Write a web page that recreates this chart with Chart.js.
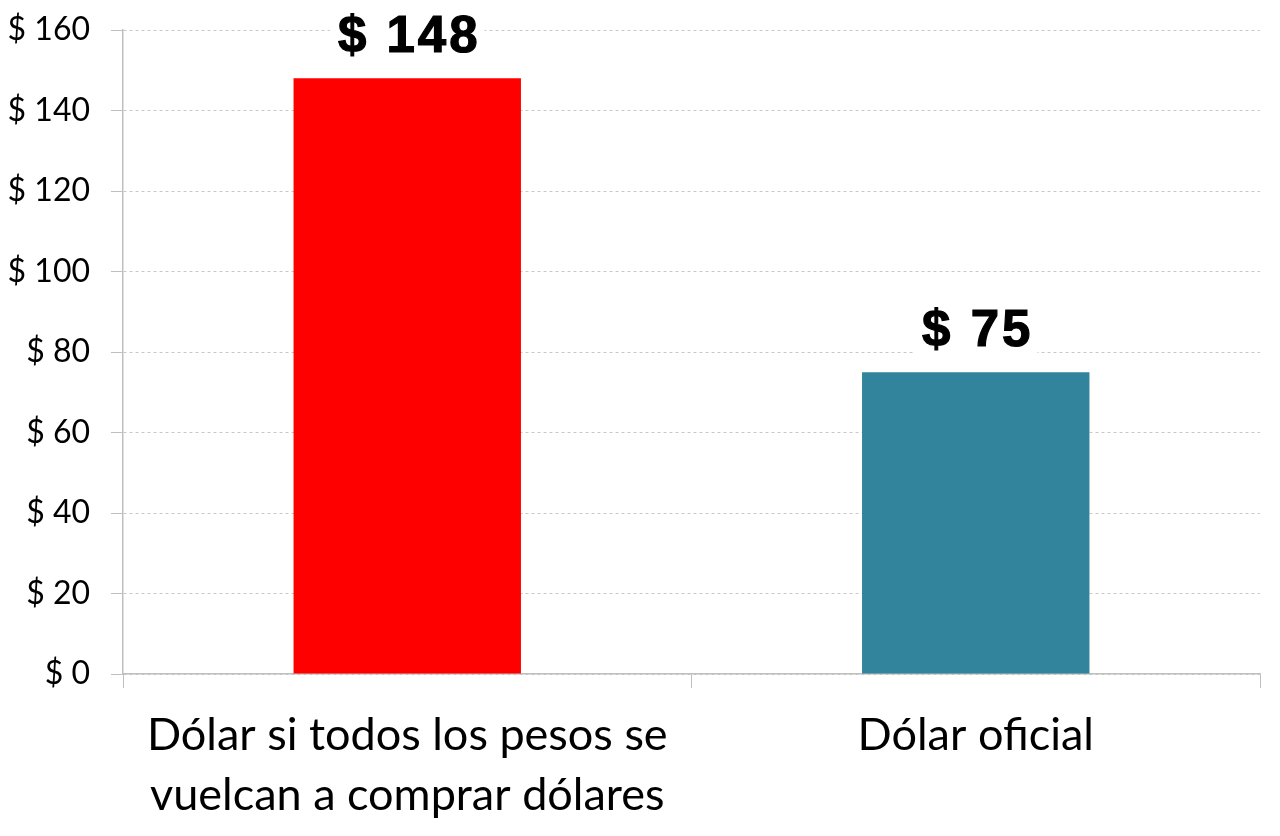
<!DOCTYPE html>
<html>
<head>
<meta charset="utf-8">
<script src="https://cdn.jsdelivr.net/npm/chart.js@4/dist/chart.umd.min.js"></script>
<style>
  html, body { margin: 0; padding: 0; background: #fff; }
  #wrap { width: 1280px; height: 836px; position: relative; }
</style>
</head>
<body>
<div id="wrap"><canvas id="chart"></canvas></div>
<script>
// data
const categories = [
  ['Dólar si todos los pesos se', 'vuelcan a comprar dólares'],
  'Dólar oficial'
];
const dollarValues = [148, 75];
const barColors = ['#ff0000', '#31849b'];
const yTicks = [0, 20, 40, 60, 80, 100, 120, 140, 160];

// "$ 148" style labels above each bar, on a white patch that breaks the grid line
const barLabels = {
  id: 'barLabels',
  afterDatasetsDraw(chart) {
    const ctx = chart.ctx;
    const meta = chart.getDatasetMeta(0);
    ctx.save();
    ctx.font = 'bold 51px "Liberation Sans", Arial, sans-serif';
    ctx.letterSpacing = '3px';
    ctx.textAlign = 'center';
    ctx.textBaseline = 'middle';
    meta.data.forEach((bar, i) => {
      const text = '$ ' + dollarValues[i];
      const w = ctx.measureText(text).width;
      const cy = bar.y - 40;
      ctx.fillStyle = '#fff';
      ctx.fillRect(bar.x - w / 2 - 6, cy - 26, w + 12, 50);
      ctx.fillStyle = '#000';
      ctx.lineWidth = 1.2;
      ctx.strokeStyle = '#000';
      ctx.fillText(text, bar.x + 2, cy);
      ctx.strokeText(text, bar.x + 2, cy);
    });
    ctx.restore();
  }
};

const ctx = document.getElementById('chart').getContext('2d');
new Chart(ctx, {
  type: 'bar',
  data: {
    labels: categories,
    datasets: [{
      data: dollarValues,
      backgroundColor: barColors,
      borderWidth: 0,
      categoryPercentage: 1,
      barPercentage: 0.4
    }]
  },
  options: {
    responsive: true,
    maintainAspectRatio: false,
    animation: false,
    layout: { padding: { top: 30, right: 20, left: 0, bottom: 0 } },
    plugins: {
      legend: { display: false },
      tooltip: { enabled: false }
    },
    scales: {
      x: {
        grid: {
          offset: true,
          drawOnChartArea: false,
          color: '#bfbfbf',
          tickLength: 14,
          tickBorderDash: []
        },
        border: { color: '#bfbfbf', width: 1.5 },
        ticks: {
          color: '#000',
          font: { family: 'Lato, "Open Sans", sans-serif', size: 45, lineHeight: 1.33 },
          padding: 18,
          maxRotation: 0,
          autoSkip: false
        },
        afterFit(scale) { scale.height = 162; }
      },
      y: {
        min: 0,
        max: 160,
        afterBuildTicks(scale) { scale.ticks = yTicks.map(v => ({ value: v })); },
        grid: {
          color: '#c8c8c8',
          tickColor: '#bfbfbf',
          tickLength: 12,
          tickBorderDash: []
        },
        border: { color: '#bfbfbf', width: 1.5, dash: [3, 3] },
        ticks: {
          color: '#000',
          font: { family: 'Lato, "Open Sans", sans-serif', size: 32 },
          padding: 21,
          callback: v => '$ ' + v
        },
        afterFit(scale) {
          scale.width = 123;
          scale.paddingTop = 0;
          scale.paddingBottom = 0;
        }
      }
    }
  },
  plugins: [barLabels]
});
</script>
</body>
</html>
